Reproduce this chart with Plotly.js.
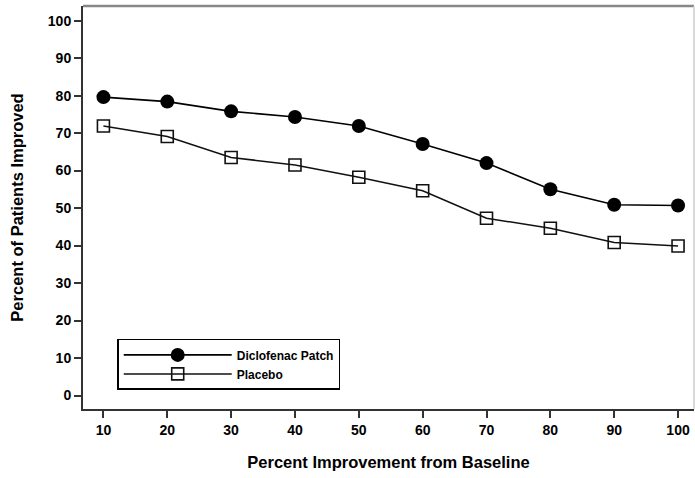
<!DOCTYPE html>
<html>
<head>
<meta charset="utf-8">
<script src="https://cdn.plot.ly/plotly-3.0.1.min.js"></script>
<style>html,body{margin:0;padding:0;background:#fff;}#chart{width:695px;height:478px;}</style>
</head>
<body>
<div id="chart"></div>
<script>
const xValues = [10, 20, 30, 40, 50, 60, 70, 80, 90, 100];
const diclofenac = [79.6, 78.4, 75.8, 74.3, 71.9, 67.1, 62.0, 55.0, 50.9, 50.7];
const placebo = [71.9, 69.1, 63.5, 61.5, 58.2, 54.6, 47.3, 44.6, 40.8, 39.9];
const yTicks = [0, 10, 20, 30, 40, 50, 60, 70, 80, 90, 100];
const seriesNames = ['Diclofenac Patch', 'Placebo'];

const FONT = '"Liberation Sans", Arial, sans-serif';

const traces = [
  {
    x: xValues, y: diclofenac, name: seriesNames[0], type: 'scatter', mode: 'lines+markers',
    line: {color: '#000', width: 1.6},
    marker: {symbol: 'circle', size: 14, color: '#000', line: {color: '#000', width: 0}}
  },
  {
    x: xValues, y: placebo, name: seriesNames[1], type: 'scatter', mode: 'lines+markers',
    line: {color: '#111', width: 1.5},
    marker: {symbol: 'square-open', size: 12, color: '#111', line: {width: 1.6}}
  }
];

const layout = {
  width: 695, height: 478,
  margin: {l: 83, r: 1, t: 6, b: 69},
  paper_bgcolor: '#fff', plot_bgcolor: '#fff',
  font: {family: FONT, color: '#000', size: 13, weight: 'bold'},
  showlegend: true,
  legend: {
    x: 0.056, y: 0.174, xanchor: 'left', yanchor: 'top',
    bordercolor: '#000', borderwidth: 1.5, bgcolor: '#fff',
    itemwidth: 108, tracegroupgap: 0,
    font: {family: FONT, size: 12, weight: 'bold', color: '#000'}
  },
  xaxis: {
    range: [6.8, 102.5], tickvals: xValues, ticktext: xValues.map(String),
    showgrid: false, zeroline: false, showline: true, linecolor: '#333', linewidth: 2,
    ticks: 'outside', ticklen: 7, tickwidth: 2, tickcolor: '#333',
    tickfont: {family: FONT, size: 14, weight: 'bold'},
    title: {text: 'Percent Improvement from Baseline', font: {family: FONT, size: 16.5, weight: 'bold'}, standoff: 20}
  },
  yaxis: {
    range: [-3.6, 103.9], tickvals: yTicks, ticktext: yTicks.map(String),
    showgrid: false, zeroline: false, showline: true, linecolor: '#333', linewidth: 2,
    ticks: 'outside', ticklen: 7, tickwidth: 2, tickcolor: '#333',
    tickfont: {family: FONT, size: 14, weight: 'bold'},
    title: {text: 'Percent of Patients Improved', font: {family: FONT, size: 16.5, weight: 'bold'}, standoff: 20}
  },
  shapes: [
    {type: 'line', xref: 'paper', yref: 'paper', x0: 0, x1: 1, y0: 1, y1: 1, line: {color: '#888', width: 2.5}},
    {type: 'line', xref: 'paper', yref: 'paper', x0: 1, x1: 1, y0: 0, y1: 1, line: {color: '#ccc', width: 1.5}}
  ]
};

Plotly.newPlot('chart', traces, layout, {displayModeBar: false, staticPlot: true});
</script>
</body>
</html>
